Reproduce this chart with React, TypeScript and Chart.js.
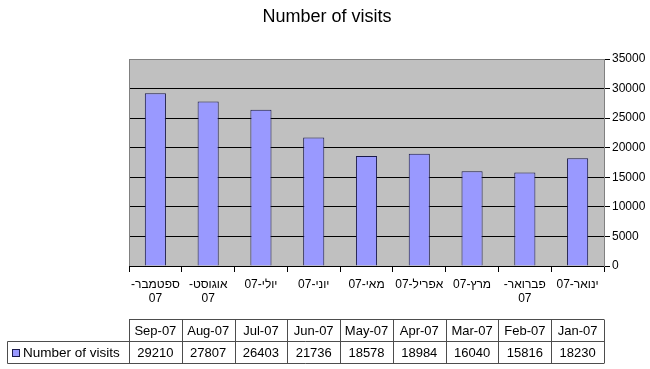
import React, { useEffect, useRef } from "react";
import { Chart, registerables } from "chart.js";

Chart.register(...registerables);

const categoryLabels: (string | string[])[] = [
  ["\u200Fספטמבר-\u200F", "07"],
  ["\u200Fאוגוסט-\u200F", "07"],
  "יולי-07",
  "יוני-07",
  "מאי-07",
  "אפריל-07",
  "מרץ-07",
  ["\u200Fפברואר-\u200F", "07"],
  "ינואר-07",
];
const monthLabels = ["Sep-07", "Aug-07", "Jul-07", "Jun-07", "May-07", "Apr-07", "Mar-07", "Feb-07", "Jan-07"];
const visits = [29210, 27807, 26403, 21736, 18578, 18984, 16040, 15816, 18230];
const seriesName = "Number of visits";
const chartTitle = "Number of visits";
const yMax = 35000;
const yStep = 5000;

const FONT = "'Liberation Sans', Arial, sans-serif";
const BAR_FILL = "#9999FF";
const BAR_EDGE = "#1a1a4a";

const plotBgPlugin = {
  id: "plotBg",
  beforeDraw(chart: any) {
    const { ctx, chartArea: a } = chart;
    ctx.save();
    ctx.fillStyle = "#C0C0C0";
    ctx.fillRect(a.left, a.top, a.right - a.left, a.bottom - a.top);
    ctx.restore();
  },
  afterDatasetsDraw(chart: any) {
    const { ctx, chartArea: a } = chart;
    ctx.save();
    ctx.strokeStyle = "#808080";
    ctx.lineWidth = 1;
    ctx.beginPath();
    ctx.moveTo(a.left + 0.5, a.bottom);
    ctx.lineTo(a.left + 0.5, a.top + 0.5);
    ctx.lineTo(a.right, a.top + 0.5);
    ctx.stroke();
    ctx.restore();
  },
};

const titlePlugin = {
  id: "manualTitle",
  afterDraw(chart: any) {
    const { ctx } = chart;
    ctx.save();
    ctx.fillStyle = "#000";
    ctx.font = `18px ${FONT}`;
    ctx.textAlign = "center";
    ctx.textBaseline = "middle";
    ctx.fillText(chartTitle, 327, 17);
    ctx.restore();
  },
};

const dataTablePlugin = {
  id: "dataTable",
  afterDraw(chart: any) {
    const { ctx } = chart;
    const x = chart.scales.x;
    const n = monthLabels.length;
    const step = (x.right - x.left) / n;
    const top = 319.5;
    const mid = 341.5;
    const bot = 363.5;
    const leftEdge = 7.5;
    ctx.save();
    ctx.strokeStyle = "#4d4d4d";
    ctx.lineWidth = 1;
    ctx.beginPath();
    ctx.moveTo(x.left, top);
    ctx.lineTo(x.right, top);
    ctx.moveTo(leftEdge, mid);
    ctx.lineTo(x.right, mid);
    ctx.moveTo(leftEdge, bot);
    ctx.lineTo(x.right, bot);
    ctx.moveTo(leftEdge, mid);
    ctx.lineTo(leftEdge, bot);
    for (let i = 0; i <= n; i++) {
      const px = Math.round(x.left + i * step) + 0.5;
      ctx.moveTo(px, top);
      ctx.lineTo(px, bot);
    }
    ctx.stroke();

    ctx.fillStyle = "#000";
    ctx.font = `13px ${FONT}`;
    ctx.textAlign = "center";
    ctx.textBaseline = "middle";
    for (let i = 0; i < n; i++) {
      const cx = x.getPixelForValue(i);
      ctx.fillText(monthLabels[i], cx, (top + mid) / 2 + 1);
      ctx.fillText(String(visits[i]), cx, (mid + bot) / 2 + 1);
    }
    ctx.fillStyle = BAR_FILL;
    ctx.fillRect(12, 349, 7, 7);
    ctx.strokeStyle = BAR_EDGE;
    ctx.strokeRect(12.5, 349.5, 7, 7);
    ctx.fillStyle = "#000";
    ctx.textAlign = "left";
    ctx.font = `13.5px ${FONT}`;
    ctx.fillText(seriesName, 23, (mid + bot) / 2 + 1);
    ctx.restore();
  },
};

export default function App() {
  const ref = useRef<HTMLCanvasElement | null>(null);

  useEffect(() => {
    document.body.style.margin = "0";
    const canvas = ref.current;
    if (!canvas) return;
    const chart = new Chart(canvas, {
      type: "bar",
      data: {
        labels: categoryLabels as any,
        datasets: [
          {
            label: seriesName,
            data: visits,
            backgroundColor: BAR_FILL,
            borderColor: BAR_EDGE,
            borderWidth: 1,
            barPercentage: 0.4,
            categoryPercentage: 1,
          },
        ],
      },
      plugins: [plotBgPlugin, dataTablePlugin, titlePlugin],
      options: {
        responsive: false,
        animation: false,
        devicePixelRatio: 1,
        layout: { padding: { left: 129, right: 0, top: 59, bottom: 0 } },
        plugins: {
          legend: { display: false },
          tooltip: { enabled: false },
          title: { display: false },
        },
        scales: {
          x: {
            offset: true,
            grid: {
              offset: true,
              drawOnChartArea: false,
              drawTicks: true,
              tickLength: 6,
              color: "#000",
            },
            border: { display: true, color: "#000", width: 1 },
            ticks: {
              autoSkip: false,
              maxRotation: 0,
              minRotation: 0,
              color: "#000",
              padding: 5,
              font: { family: FONT, size: 12 },
            },
            afterFit: (s: any) => {
              s.height = 103;
            },
          },
          y: {
            position: "right",
            min: 0,
            max: yMax,
            ticks: {
              stepSize: yStep,
              color: "#000",
              padding: 2,
              font: { family: FONT, size: 12 },
              callback: (v: any) => String(v),
            },
            grid: {
              color: (c: any) => (c.tick && c.tick.value === yMax ? "#808080" : "#000"),
              tickColor: "#000",
              tickLength: 6,
              drawTicks: true,
            },
            border: { display: true, color: "#808080", width: 1 },
            afterFit: (s: any) => {
              s.width = 46;
            },
          },
        },
      },
    });
    return () => chart.destroy();
  }, []);

  return (
    <div style={{ position: "absolute", left: 0, top: 0, width: 650, height: 369, background: "#fff" }}>
      <canvas ref={ref} width={650} height={369} />
    </div>
  );
}
